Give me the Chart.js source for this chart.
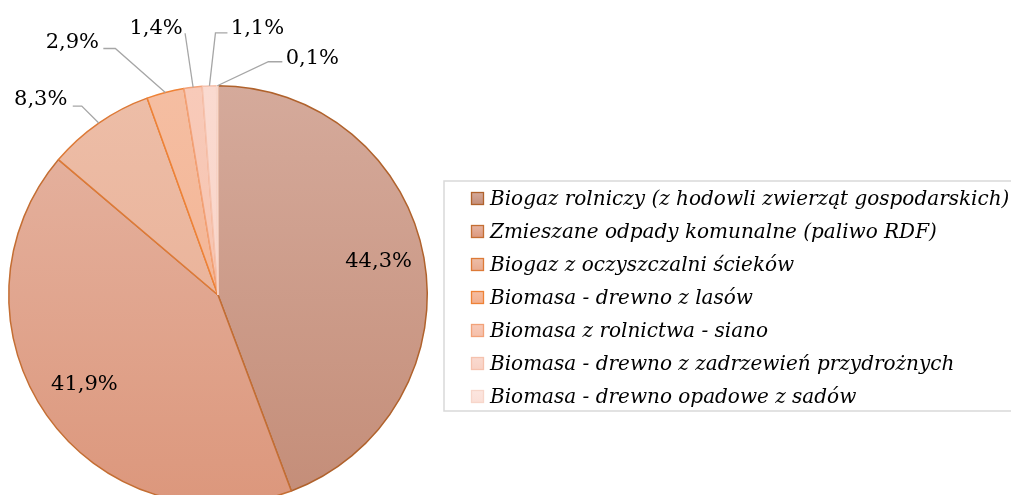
<!DOCTYPE html>
<html lang="pl">
<head>
<meta charset="utf-8">
<title>Struktura biomasy</title>
<script src="https://cdn.jsdelivr.net/npm/chart.js@4.4.0/dist/chart.umd.min.js"></script>
<style>
  html, body { margin: 0; padding: 0; background: #fff; overflow: hidden; }
  #wrap { position: relative; width: 1011px; height: 522px; }
</style>
</head>
<body>
<div id="wrap"><canvas id="pieChart"></canvas></div>
<script>
// źródła biomasy i ich udział w %
const categories = [
    'Biogaz rolniczy (z hodowli zwierząt gospodarskich)',
    'Zmieszane odpady komunalne (paliwo RDF)',
    'Biogaz z oczyszczalni ścieków',
    'Biomasa - drewno z lasów',
    'Biomasa z rolnictwa - siano',
    'Biomasa - drewno z zadrzewień przydrożnych',
    'Biomasa - drewno opadowe z sadów'
];
const shares = [44.3, 41.9, 8.3, 2.9, 1.4, 1.1, 0.1];

// kolory: gradient góra/dół wycinka i obrys
const fillTop = ['#D5AA9B', '#E6B5A3', '#EDBEA8', '#F5BEA2', '#F8CAB9', '#FADAD0', '#FCE6E0'];
const fillBottom = ['#C48D78', '#DC977C', '#E8AA8E', '#F2AE8C', '#F5BFA9', '#F8D1C4', '#FBDFD7'];
const borderColors = ['#B0622C', '#C46E33', '#DD7A37', '#EE8236', '#F2A279', '#F5C2AE', '#F7D6CA'];

const LABEL_FONT = '21px "DejaVu Serif", serif';
const LEGEND_FONT = 'italic 20px "DejaVu Serif", serif';

function formatShare(v) {
    return v.toFixed(1).replace('.', ',') + '%';
}

function sliceFill(c) {
    const i = c.dataIndex;
    const area = c.chart.chartArea;
    if (!area) return fillTop[i];
    const g = c.chart.ctx.createLinearGradient(0, area.top, 0, area.bottom);
    g.addColorStop(0, fillTop[i]);
    g.addColorStop(1, fillBottom[i]);
    return g;
}

// etykiety procentowe: duże wycinki w środku, małe na zewnątrz z linią odniesienia
const pieLabels = {
    id: 'pieLabels',
    afterDatasetsDraw(chart, args, opts) {
        const ctx = chart.ctx;
        const arcs = chart.getDatasetMeta(0).data;
        ctx.save();
        ctx.font = opts.font;
        ctx.fillStyle = '#000';
        ctx.textAlign = 'center';
        ctx.textBaseline = 'alphabetic';
        arcs.forEach((arc, i) => {
            const p = arc.getProps(['x', 'y', 'startAngle', 'endAngle', 'outerRadius'], true);
            const mid = (p.startAngle + p.endAngle) / 2;
            const text = formatShare(shares[i]);
            const lead = opts.leaders[i];
            if (!lead) {
                const r = p.outerRadius * opts.insideRatio;
                ctx.fillText(text, p.x + Math.cos(mid) * r, p.y + Math.sin(mid) * r + 1);
                return;
            }
            const ex = p.x + Math.cos(mid) * p.outerRadius;
            const ey = p.y + Math.sin(mid) * p.outerRadius;
            ctx.strokeStyle = '#A6A6A6';
            ctx.lineWidth = 1.3;
            ctx.beginPath();
            ctx.moveTo(ex, ey);
            ctx.lineTo(ex + lead.elbow[0], ey + lead.elbow[1]);
            ctx.lineTo(ex + lead.end[0], ey + lead.end[1]);
            ctx.stroke();
            ctx.fillText(text, ex + lead.text[0], ey + lead.text[1]);
        });
        ctx.restore();
    }
};

// legenda w ramce po prawej
const boxLegend = {
    id: 'boxLegend',
    afterDraw(chart, args, opts) {
        const ctx = chart.ctx;
        ctx.save();
        ctx.strokeStyle = '#D9D9D9';
        ctx.lineWidth = 1.5;
        ctx.strokeRect(opts.left, opts.top, opts.width, opts.height);
        ctx.font = opts.font;
        ctx.textAlign = 'left';
        ctx.textBaseline = 'alphabetic';
        categories.forEach((name, i) => {
            const base = opts.firstBaseline + i * opts.rowGap;
            const s = opts.box;
            const g = ctx.createLinearGradient(0, base - s, 0, base);
            g.addColorStop(0, fillTop[i]);
            g.addColorStop(1, fillBottom[i]);
            ctx.fillStyle = g;
            ctx.fillRect(opts.boxX, base - s, s, s);
            ctx.strokeStyle = borderColors[i];
            ctx.lineWidth = 1.3;
            ctx.strokeRect(opts.boxX + 0.5, base - s + 0.5, s - 1, s - 1);
            ctx.fillStyle = '#000';
            ctx.fillText(name, opts.textX, base);
        });
        ctx.restore();
    }
};

const pieChart = new Chart(document.getElementById('pieChart').getContext('2d'), {
    type: 'pie',
    data: {
        labels: categories,
        datasets: [{
            data: shares,
            backgroundColor: sliceFill,
            borderColor: borderColors,
            borderWidth: 1.5
        }]
    },
    options: {
        responsive: true,
        maintainAspectRatio: false,
        animation: false,
        events: [],
        layout: { padding: { top: 85, left: 8, right: 583, bottom: 17 } },
        plugins: {
            legend: { display: false },
            tooltip: { enabled: false },
            pieLabels: {
                font: LABEL_FONT,
                insideRatio: 0.78,
                leaders: [
                    null,
                    null,
                    { elbow: [-17, -17], end: [-26, -17], text: [-58, -18] },
                    { elbow: [-50, -44], end: [-62, -44], text: [-93, -44] },
                    { elbow: [-8, -54], end: [-8, -54], text: [-37, -53] },
                    { elbow: [6, -53], end: [18, -53], text: [48, -52] },
                    { elbow: [51, -24], end: [65, -24], text: [95, -22] }
                ]
            },
            boxLegend: {
                font: LEGEND_FONT,
                left: 444, top: 181, width: 600, height: 230,
                boxX: 471, box: 13, textX: 490,
                firstBaseline: 205, rowGap: 33
            }
        }
    },
    plugins: [pieLabels, boxLegend]
});
</script>
</body>
</html>
